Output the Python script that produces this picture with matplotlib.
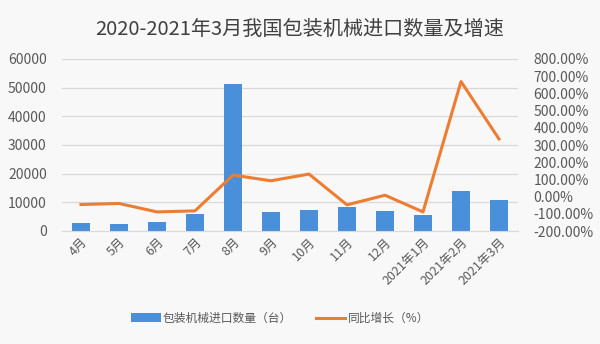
import matplotlib
matplotlib.use("Agg")
import matplotlib.pyplot as plt
import numpy as np

plt.rcParams["font.family"] = ["Noto Sans CJK SC", "DejaVu Sans"]

# 进口数量（台）与同比增长（%）
months = ["4月", "5月", "6月", "7月", "8月", "9月", "10月", "11月", "12月",
          "2021年1月", "2021年2月", "2021年3月"]
quantity = [2800, 2450, 3150, 6100, 51350, 6800, 7250, 8400, 6900, 5700, 14000, 10750]
growth = [-46, -40, -89, -83, 125, 92, 131, -48, 8, -89, 669, 335]

bar_color = "#4A8FD9"
line_color = "#ED7D31"
text_color = "#595959"
bg = "#F8F8F8"

fig = plt.figure(figsize=(6, 3.44), dpi=100, facecolor=bg)
ax = fig.add_axes([62 / 600, 113 / 344, 456 / 600, 172 / 344])
ax.set_facecolor(bg)

x = np.arange(len(months))
ax.bar(x, quantity, width=0.47, color=bar_color, label="包装机械进口数量（台）", zorder=2)
ax.set_xlim(-0.5, len(months) - 0.5)
ax.set_ylim(0, 60000)
ax.set_yticks(range(0, 60001, 10000))
ax.yaxis.grid(True, color="#D9D9D9", linewidth=0.9, zorder=0)
for s in ax.spines.values():
    s.set_visible(False)
ax.spines["bottom"].set_visible(True)
ax.spines["bottom"].set_color("#D9D9D9")
ax.tick_params(axis="both", length=0, colors=text_color, labelsize=10)
ax.tick_params(axis="y", pad=11)
ax.set_xticks(x)
ax.set_xticklabels(months, rotation=45, ha="right", rotation_mode="anchor", fontsize=9)

ax2 = ax.twinx()
ax2.plot(x, growth, color=line_color, linewidth=2.2, label="同比增长（%）", zorder=3)
ax2.set_ylim(-200, 800)
ax2.set_yticks(range(-200, 801, 100))
ax2.set_yticklabels([f"{v:.2f}%" for v in range(-200, 801, 100)])
for s in ax2.spines.values():
    s.set_visible(False)
ax2.tick_params(axis="y", length=0, colors=text_color, labelsize=10, pad=11)

fig.suptitle("2020-2021年3月我国包装机械进口数量及增速", y=0.945, fontsize=14.5,
             color="#404040")

h1, l1 = ax.get_legend_handles_labels()
h2, l2 = ax2.get_legend_handles_labels()
fig.legend(h1 + h2, l1 + l2, loc="center", bbox_to_anchor=(0.467, 0.075), ncol=2,
           frameon=False, fontsize=8.5, labelcolor=text_color, handlelength=2.5,
           columnspacing=2.0, handletextpad=0.2)

fig.savefig("out.png", dpi=100, facecolor=bg)
